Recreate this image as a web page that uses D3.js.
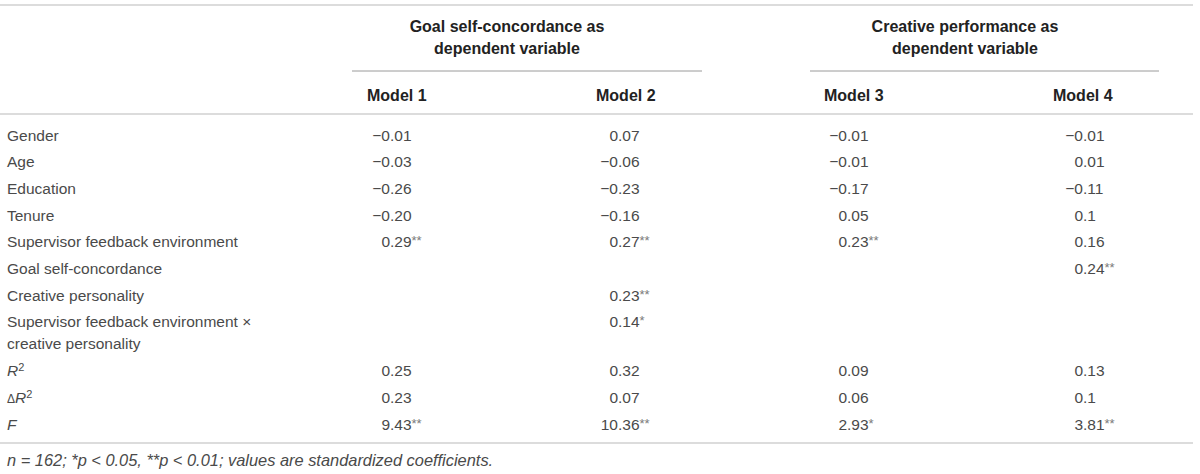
<!DOCTYPE html>
<html>
<head>
<meta charset="utf-8">
<script src="https://cdn.jsdelivr.net/npm/d3@7"></script>
<style>
  body { margin: 0; background: #fff; }
  svg text { font-family: "Liberation Sans", Arial, Helvetica, sans-serif; }
</style>
</head>
<body>
<div id="chart"></div>
<script>
// table content
const groups = ["Goal self-concordance as|dependent variable", "Creative performance as|dependent variable"];
const models = ["Model 1", "Model 2", "Model 3", "Model 4"];
const rowLabels = [
    "Gender", "Age", "Education", "Tenure", "Supervisor feedback environment",
    "Goal self-concordance", "Creative personality",
    "Supervisor feedback environment \u00d7|creative personality",
    "R2", "\u0394R2", "F"
];
const model1 = ["\u22120.01", "\u22120.03", "\u22120.26", "\u22120.20", "0.29**", "", "", "", "0.25", "0.23", "9.43**"];
const model2 = ["0.07", "\u22120.06", "\u22120.23", "\u22120.16", "0.27**", "", "0.23**", "0.14*", "0.32", "0.07", "10.36**"];
const model3 = ["\u22120.01", "\u22120.01", "\u22120.17", "0.05", "0.23**", "", "", "", "0.09", "0.06", "2.93*"];
const model4 = ["\u22120.01", "0.01", "\u22120.11", "0.1", "0.16", "0.24**", "", "", "0.13", "0.1", "3.81**"];
const footnote = "n = 162; *p < 0.05, **p < 0.01; values are standardized coefficients.";

const width = 1200, height = 474;
const svg = d3.select("#chart").append("svg")
    .attr("width", width).attr("height", height);

// column positions (decimal point for values, left edge for headers)
const xDec = d3.scaleOrdinal().domain(models).range([390, 618, 847, 1083]);
const xHead = d3.scaleOrdinal().domain(models).range([367, 596, 824, 1053]);
const xGroup = d3.scaleOrdinal().domain(groups).range([507, 965]);
const groupLines = [[352, 702], [810, 1159]];

// row positions: one unit per row, extra wrapped lines add a smaller step
const rowStep = 26.7, extraLine = 22;
let acc = 0;
const rowStart = rowLabels.map(l => {
    const s = acc;
    acc += rowStep + (l.split("|").length - 1) * extraLine;
    return s;
});
const y = d3.scaleLinear().domain([0, rowStep]).range([135, 135 + rowStep]);

const textColor = "#4a4a4a";

// rules
const rule = (y0, x0, x1, col, w) => svg.append("line")
    .attr("x1", x0).attr("x2", x1).attr("y1", y0).attr("y2", y0)
    .attr("stroke", col).attr("stroke-width", w);
rule(5, 0, 1193, "#dcdcdc", 2);
rule(114, 0, 1193, "#dcdcdc", 2);
rule(443, 0, 1193, "#dcdcdc", 2);
groupLines.forEach(g => rule(71, g[0], g[1], "#9a9a9a", 1));

// group headers
groups.forEach(g => {
    g.split("|").forEach((line, i) => {
        svg.append("text")
            .attr("x", xGroup(g)).attr("y", 32 + i * 22)
            .attr("text-anchor", "middle")
            .attr("font-size", 16).attr("font-weight", "bold")
            .attr("fill", "#222")
            .text(line);
    });
});

// model headers
svg.selectAll(".model").data(models).enter().append("text")
    .attr("class", "model")
    .attr("x", d => xHead(d)).attr("y", 101)
    .attr("font-size", 16).attr("font-weight", "bold")
    .attr("fill", "#222")
    .text(d => d);

// row labels
rowLabels.forEach((l, i) => {
    const t = svg.append("text")
        .attr("x", 7).attr("y", y(rowStart[i]) + 5.5)
        .attr("font-size", 15.5).attr("fill", textColor);
    if (l === "R2" || l === "\u0394R2") {
        if (l[0] === "\u0394") t.append("tspan").attr("font-size", 12).text("\u0394");
        t.append("tspan").attr("font-style", "italic").text("R");
        t.append("tspan").attr("font-size", 11).attr("dy", -5).text("2");
    } else if (l === "F") {
        t.attr("font-style", "italic").text("F");
    } else {
        l.split("|").forEach((line, j) => {
            t.append("tspan").attr("x", 7).attr("dy", j === 0 ? 0 : extraLine).text(line);
        });
    }
});

// values, aligned on the decimal point
const cols = [model1, model2, model3, model4];
cols.forEach((vals, c) => {
    const m = models[c];
    vals.forEach((v, i) => {
        if (!v) return;
        const num = v.replace(/\*/g, "");
        const stars = v.slice(num.length);
        const k = num.indexOf(".");
        const yy = y(rowStart[i]) + 5.5;
        svg.append("text")
            .attr("x", xDec(m)).attr("y", yy)
            .attr("text-anchor", "end")
            .attr("font-size", 15.5).attr("fill", textColor)
            .text(num.slice(0, k));
        const t = svg.append("text")
            .attr("x", xDec(m)).attr("y", yy)
            .attr("font-size", 15.5).attr("fill", textColor)
            .text(num.slice(k));
        if (stars) {
            t.append("tspan").attr("font-size", 13).attr("dy", -2)
                .attr("fill", "#7a7a7a").text(stars);
        }
    });
});

// footnote
svg.append("text")
    .attr("x", 7).attr("y", 466)
    .attr("font-size", 16.4).attr("font-style", "italic")
    .attr("fill", textColor)
    .text(footnote);
</script>
</body>
</html>
